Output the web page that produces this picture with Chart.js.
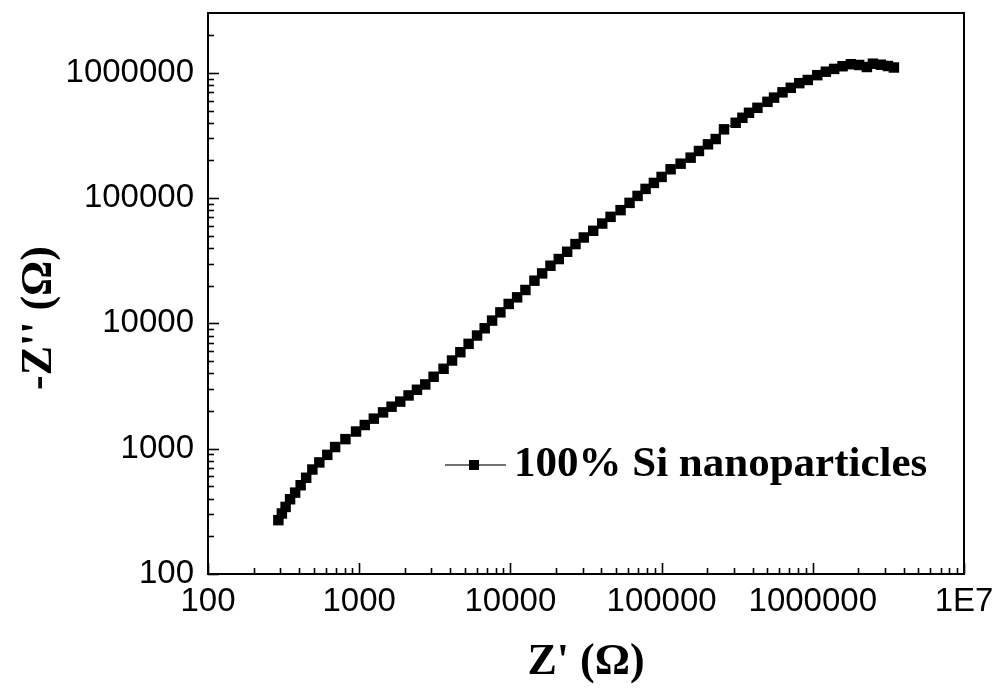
<!DOCTYPE html>
<html>
<head>
<meta charset="utf-8">
<script src="https://cdn.jsdelivr.net/npm/chart.js@4/dist/chart.umd.min.js"></script>
<style>
  html, body { margin: 0; padding: 0; background: #fff; }
  #wrap { width: 1002px; height: 692px; }
</style>
</head>
<body>
<div id="wrap"><canvas id="c" width="1002" height="692"></canvas></div>
<script>
// ---- data ----
const SERIES_NAME = '100% Si nanoparticles';
const Z_REAL = [292, 308, 326, 349, 377, 410, 446, 490, 545, 615,
  693, 811, 953, 1089, 1250, 1438, 1637, 1868, 2121, 2410,
  2735, 3105, 3614, 4111, 4667, 5293, 6018, 6759, 7566, 8587,
  9744, 11080, 12570, 14420, 16220, 18400, 20890, 23740, 26940, 30580,
  35290, 40490, 45960, 53530, 61380, 69340, 78340, 88920, 100000, 114700,
  133600, 155600, 176600, 202600, 227900, 258600, 309000, 342200, 378500, 430300,
  501200, 554200, 630100, 715000, 813800, 926600, 1071000, 1220000, 1384000, 1573000,
  1785000, 2026000, 2279000, 2497000, 2820000, 3139000, 3439000];
const Z_IMAG = [269, 304, 343, 395, 446, 511, 586, 682, 777, 893,
  1031, 1192, 1371, 1545, 1737, 1949, 2163, 2376, 2661, 2954,
  3256, 3750, 4342, 5055, 5888, 6867, 8000, 9142, 10527, 12250,
  14300, 16140, 18480, 21920, 25060, 28850, 32620, 37300, 42950, 48480,
  54820, 62660, 70860, 80120, 91580, 104100, 118400, 132100, 147500, 169800,
  188200, 210200, 237600, 268600, 296000, 353700, 399100, 437500, 479400, 525400,
  586500, 633500, 698300, 758500, 826400, 876200, 957000, 1020000, 1074000, 1128000,
  1171000, 1154000, 1112000, 1182000, 1160000, 1133000, 1102000];

// ---- axes / ticks ----
const X_MIN = 100, X_MAX = 10000000;
const Y_MIN = 100, Y_MAX = 3000000;
const X_MAJOR = [100, 1000, 10000, 100000, 1000000, 10000000];
const X_LABELS = ['100', '1000', '10000', '100000', '1000000', '1E7'];
const Y_MAJOR = [100, 1000, 10000, 100000, 1000000];
const Y_LABELS = ['100', '1000', '10000', '100000', '1000000'];
const MINOR_MULT = [2, 3, 4, 5, 6, 7, 8, 9];
const X_TITLE = "Z' (\u03A9)";
const Y_TITLE = "-Z'' (\u03A9)";

function tickList(majors, max) {
  const out = [];
  majors.forEach(m => {
    out.push(m);
    MINOR_MULT.forEach(k => { if (m * k < max) out.push(m * k); });
  });
  return out.sort((a, b) => a - b);
}
const X_TICKS = tickList(X_MAJOR, X_MAX);
const Y_TICKS = tickList(Y_MAJOR, Y_MAX);

const points = Z_REAL.map((x, i) => ({ x: x, y: Z_IMAG[i] }));

const TICK_FONT = { family: "'Liberation Sans', Arial, sans-serif", size: 33 };
const TITLE_FONT = "bold 44px 'Liberation Serif', 'Times New Roman', serif";
const LEGEND_FONT = "bold 43px 'Liberation Serif', 'Times New Roman', serif";

const decor = {
  id: 'decor',
  afterDatasetsDraw(chart) {
    const { ctx, chartArea: a, scales } = chart;
    const xs = scales.x, ys = scales.y;
    ctx.save();
    ctx.strokeStyle = '#000';
    ctx.lineWidth = 1.6;
    xs.ticks.forEach(t => {
      const px = Math.round(xs.getPixelForValue(t.value)) + 0.5;
      const len = X_MAJOR.includes(t.value) ? 11 : 6;
      ctx.beginPath(); ctx.moveTo(px, a.bottom); ctx.lineTo(px, a.bottom - len); ctx.stroke();
    });
    ys.ticks.forEach(t => {
      const py = Math.round(ys.getPixelForValue(t.value)) + 0.5;
      const len = Y_MAJOR.includes(t.value) ? 11 : 6;
      ctx.beginPath(); ctx.moveTo(a.left, py); ctx.lineTo(a.left + len, py); ctx.stroke();
    });
    // frame top and right
    ctx.lineWidth = 2;
    ctx.beginPath();
    ctx.moveTo(a.left, a.top); ctx.lineTo(a.right, a.top); ctx.lineTo(a.right, a.bottom);
    ctx.stroke();

    // axis titles
    ctx.fillStyle = '#000';
    ctx.font = TITLE_FONT;
    ctx.textAlign = 'center';
    ctx.textBaseline = 'middle';
    ctx.fillText(X_TITLE, (a.left + a.right) / 2, 663);
    ctx.save();
    ctx.translate(40, 318);
    ctx.rotate(-Math.PI / 2);
    ctx.fillText(Y_TITLE, 0, 0);
    ctx.restore();

    // legend
    const ly = 465;
    ctx.strokeStyle = '#444';
    ctx.lineWidth = 1.5;
    ctx.beginPath(); ctx.moveTo(445, ly); ctx.lineTo(506, ly); ctx.stroke();
    ctx.fillStyle = '#000';
    ctx.fillRect(469, ly - 5, 10, 10);
    ctx.font = LEGEND_FONT;
    ctx.textAlign = 'left';
    ctx.fillText(SERIES_NAME, 514, ly);
    ctx.restore();
  }
};

new Chart(document.getElementById('c'), {
  type: 'scatter',
  data: {
    datasets: [{
      label: SERIES_NAME,
      data: points,
      showLine: true,
      borderColor: '#000',
      borderWidth: 1,
      backgroundColor: '#000',
      pointStyle: 'rect',
      pointRadius: 7.4,
      pointHoverRadius: 7.4,
      pointBorderWidth: 0,
      tension: 0
    }]
  },
  options: {
    responsive: false,
    animation: false,
    devicePixelRatio: 1,
    layout: { padding: { left: 0, right: 38, top: 13, bottom: 0 } },
    plugins: { legend: { display: false }, tooltip: { enabled: false } },
    scales: {
      x: {
        type: 'logarithmic',
        position: 'bottom',
        min: X_MIN, max: X_MAX,
        afterBuildTicks(s) { s.ticks = X_TICKS.map(v => ({ value: v })); },
        afterFit(s) { s.height = 118; s.paddingLeft = 0; s.paddingRight = 0; },
        grid: { display: false, drawTicks: false },
        border: { display: true, color: '#000', width: 2 },
        ticks: {
          autoSkip: false, maxRotation: 0, minRotation: 0,
          color: '#000', font: TICK_FONT, padding: 8,
          callback(v) { const i = X_MAJOR.indexOf(v); return i >= 0 ? X_LABELS[i] : ''; }
        }
      },
      y: {
        type: 'logarithmic',
        position: 'left',
        min: Y_MIN, max: Y_MAX,
        afterBuildTicks(s) { s.ticks = Y_TICKS.map(v => ({ value: v })); },
        afterFit(s) { s.width = 208; s.paddingTop = 0; s.paddingBottom = 0; },
        grid: { display: false, drawTicks: false },
        border: { display: true, color: '#000', width: 2 },
        ticks: {
          autoSkip: false,
          color: '#000', font: TICK_FONT, padding: 14,
          callback(v) { const i = Y_MAJOR.indexOf(v); return i >= 0 ? Y_LABELS[i] : ''; }
        }
      }
    }
  },
  plugins: [decor]
});
</script>
</body>
</html>
